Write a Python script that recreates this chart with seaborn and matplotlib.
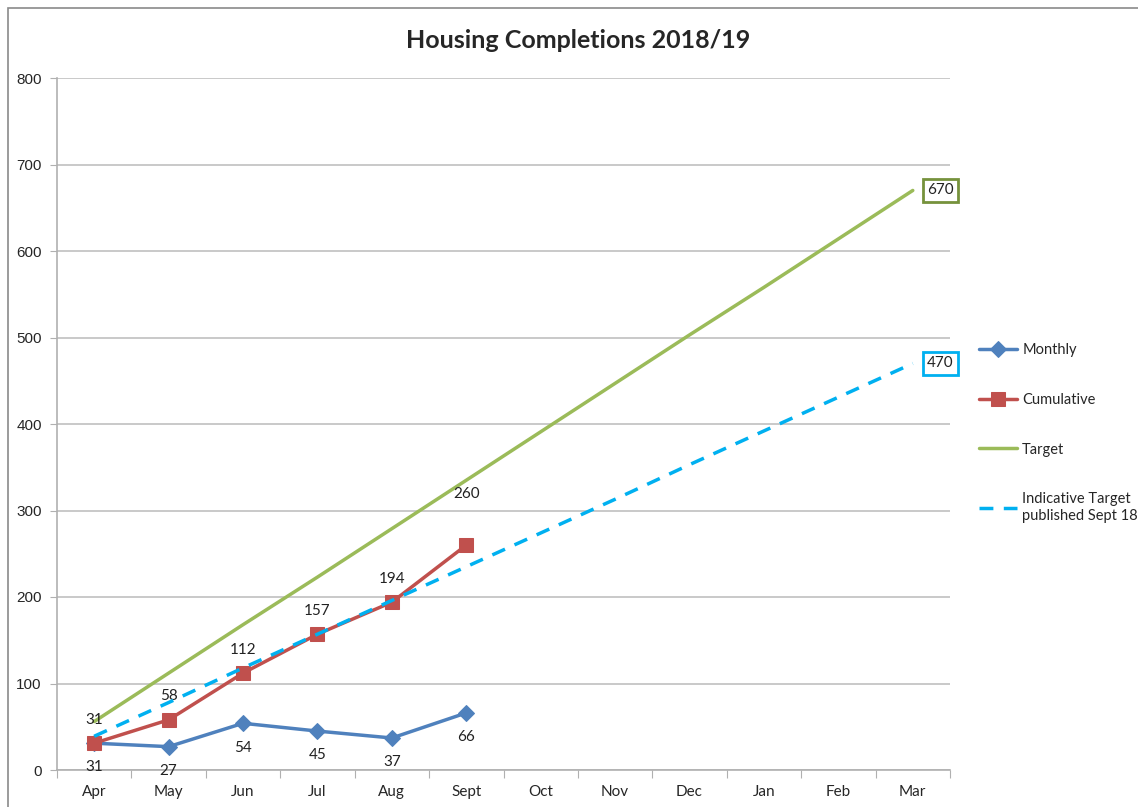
import numpy as np
import pandas as pd
import matplotlib
matplotlib.use("Agg")
import matplotlib.pyplot as plt
from matplotlib.patches import Rectangle
import seaborn as sns

# chart data
months = ["Apr", "May", "Jun", "Jul", "Aug", "Sept", "Oct", "Nov", "Dec", "Jan", "Feb", "Mar"]
monthly = [31, 27, 54, 45, 37, 66]
cumulative = [31, 58, 112, 157, 194, 260]
target = [56, 112, 168, 223, 279, 335, 391, 447, 503, 558, 614, 670]
indicative = [39, 78, 118, 157, 196, 235, 274, 313, 353, 392, 431, 470]

c_month = "#4F81BD"
c_cum = "#C0504D"
c_target = "#9BBB59"
c_ind = "#00B0F0"

sns.set_style("white")
plt.rcParams["font.family"] = ["Lato", "DejaVu Sans"]

fig = plt.figure(figsize=(11.38, 8.07), dpi=100)
ax = fig.add_axes([57 / 1138, 1 - 770 / 807, 893 / 1138, 692 / 807])

pos = np.arange(len(months))
df_t = pd.DataFrame({"pos": pos, "Target": target, "Indicative": indicative})
df_a = pd.DataFrame({"pos": pos[:len(monthly)], "Monthly": monthly, "Cumulative": cumulative})

sns.lineplot(data=df_a, x="pos", y="Monthly", ax=ax, color=c_month, lw=2.5,
             marker="D", markersize=8, markeredgecolor=c_month, label="Monthly", zorder=4)
sns.lineplot(data=df_a, x="pos", y="Cumulative", ax=ax, color=c_cum, lw=2.5,
             marker="s", markersize=10, markeredgecolor=c_cum, label="Cumulative", zorder=4)
sns.lineplot(data=df_t, x="pos", y="Target", ax=ax, color=c_target, lw=2.5,
             label="Target", zorder=3)
sns.lineplot(data=df_t, x="pos", y="Indicative", ax=ax, color=c_ind, lw=2.5,
             linestyle=(0, (4, 3)), label="Indicative Target\npublished Sept 18", zorder=5)

# data labels
for x, v in zip(pos, monthly):
    ax.annotate(str(v), (x, v), xytext=(0, -17.5), textcoords="offset points",
                ha="center", va="center", fontsize=11, color="#222222")
for i, (x, v) in enumerate(zip(pos, cumulative)):
    dy = 37 if i == len(cumulative) - 1 else 17
    ax.annotate(str(v), (x, v), xytext=(0, dy), textcoords="offset points",
                ha="center", va="center", fontsize=11, color="#222222")

ax.annotate(str(target[-1]), (pos[-1], target[-1]), xytext=(20, 0), textcoords="offset points",
            ha="center", va="center", fontsize=11, color="#222222",
            bbox=dict(boxstyle="square,pad=0.3", fc="white", ec="#76923C", lw=2))
ax.annotate(str(indicative[-1]), (pos[-1], indicative[-1]), xytext=(20, 0), textcoords="offset points",
            ha="center", va="center", fontsize=11, color="#222222",
            bbox=dict(boxstyle="square,pad=0.3", fc="white", ec=c_ind, lw=2))

ax.set_xlim(-0.5, len(months) - 0.5)
ax.set_ylim(0, 800)
ax.set_yticks(range(0, 801, 100))
ax.set_xticks(np.arange(-0.5, len(months), 1.0))
ax.set_xticklabels([])
ax.set_xticks(pos, minor=True)
ax.set_xticklabels(months, minor=True, fontsize=11)
ax.tick_params(axis="x", which="major", length=6, color="#b0b0b0", direction="out", bottom=True)
ax.tick_params(axis="x", which="minor", length=0, pad=11)
ax.tick_params(axis="y", length=5, color="#b0b0b0", direction="out", left=True, labelsize=11, pad=6)
for lab in ax.get_yticklabels():
    lab.set_fontfamily(["Liberation Sans", "DejaVu Sans"])
ax.set_xlabel("")
ax.set_ylabel("")
ax.yaxis.grid(True, color="#c0c0c0", lw=1.2)
ax.set_axisbelow(True)
for side in ["top", "right"]:
    ax.spines[side].set_visible(False)
for side in ["left", "bottom"]:
    ax.spines[side].set_color("#b0b0b0")
    ax.spines[side].set_linewidth(1.2)

ax.get_legend().remove()
handles, labels = ax.get_legend_handles_labels()
fig.legend(handles, labels, loc="upper left", bbox_to_anchor=(966 / 1138, 1 - 330 / 807),
           frameon=False, fontsize=10.5, labelspacing=2.45, handlelength=2.6, handletextpad=0.35)

fig.text(578 / 1138, 1 - 40 / 807, "Housing Completions 2018/19", ha="center", va="center",
         fontsize=18, fontweight="bold")

fig.add_artist(Rectangle((8 / 1138, -0.1), 2, 1 - 8 / 807 + 0.1, transform=fig.transFigure,
                         fill=False, edgecolor="#8a8a8a", lw=1.2))

fig.savefig("out.png", dpi=100)
